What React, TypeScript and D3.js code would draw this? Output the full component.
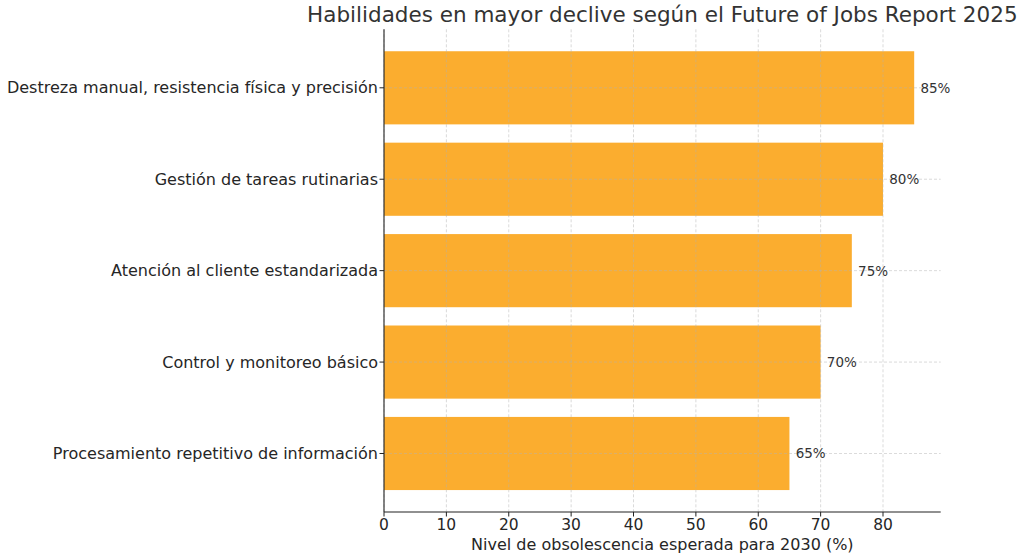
import React from "react";
import * as d3 from "d3";

const categories: string[] = [
  "Destreza manual, resistencia física y precisión",
  "Gestión de tareas rutinarias",
  "Atención al cliente estandarizada",
  "Control y monitoreo básico",
  "Procesamiento repetitivo de información",
];
const values: number[] = [85, 80, 75, 70, 65];
const xTicks: number[] = [0, 10, 20, 30, 40, 50, 60, 70, 80];
const title = "Habilidades en mayor declive según el Future of Jobs Report 2025";
const xLabel = "Nivel de obsolescencia esperada para 2030 (%)";

const W = 1024;
const H = 559;
const left = 384;
const right = 940.7;
const top = 29.3;
const bottom = 512;
const font = "'DejaVu Sans', sans-serif";
const barColor = "#FBAD2F";

export default function App() {
  const x = d3.scaleLinear().domain([0, d3.max(values)! * 1.05]).range([left, right]);
  const n = categories.length;
  const y = d3.scaleLinear().domain([-0.64, n - 1 + 0.64]).range([bottom, top]);
  const pos = (i: number) => y(n - 1 - i);
  const bh = y(0) - y(0.8);

  return (
    <svg width={W} height={H} style={{ position: "absolute", left: 0, top: 0, background: "#fff" }} fontFamily={font}>
      <rect x={0} y={0} width={W} height={H} fill="#fff" />
      {values.map((v, i) => (
        <rect key={i} x={x(0)} y={pos(i) - bh / 2} width={x(v) - x(0)} height={bh} fill={barColor} />
      ))}
      {xTicks.map((t) => (
        <line key={"gx" + t} x1={x(t)} x2={x(t)} y1={top} y2={bottom} stroke="#b0b0b0" strokeOpacity={0.6} strokeWidth={0.8} strokeDasharray="3,2" />
      ))}
      {categories.map((c, i) => (
        <line key={"gy" + i} x1={left} x2={right} y1={pos(i)} y2={pos(i)} stroke="#b0b0b0" strokeOpacity={0.6} strokeWidth={0.8} strokeDasharray="3,2" />
      ))}
      <line x1={left} x2={left} y1={top} y2={bottom} stroke="#222" strokeWidth={1.1} />
      <line x1={left} x2={right} y1={bottom} y2={bottom} stroke="#222" strokeWidth={1.1} />
      {xTicks.map((t) => (
        <g key={"xt" + t}>
          <line x1={x(t)} x2={x(t)} y1={bottom} y2={bottom + 4.5} stroke="#222" strokeWidth={1} />
          <text x={x(t)} y={529.5} textAnchor="middle" fontSize={15.5} fill="#262626">{t}</text>
        </g>
      ))}
      {categories.map((c, i) => (
        <g key={"yt" + i}>
          <line x1={left - 4.5} x2={left} y1={pos(i)} y2={pos(i)} stroke="#222" strokeWidth={1} />
          <text x={378} y={pos(i)} textAnchor="end" dominantBaseline="central" fontSize={16} fill="#262626">{c}</text>
        </g>
      ))}
      {values.map((v, i) => (
        <text key={"vl" + i} x={x(v + 1)} y={pos(i)} dominantBaseline="central" fontSize={13.5} fill="#333">{v}%</text>
      ))}
      <text x={(left + right) / 2} y={550} textAnchor="middle" fontSize={16} fill="#262626">{xLabel}</text>
      <text x={(left + right) / 2} y={21.5} textAnchor="middle" fontSize={21.5} fill="#333">{title}</text>
    </svg>
  );
}
